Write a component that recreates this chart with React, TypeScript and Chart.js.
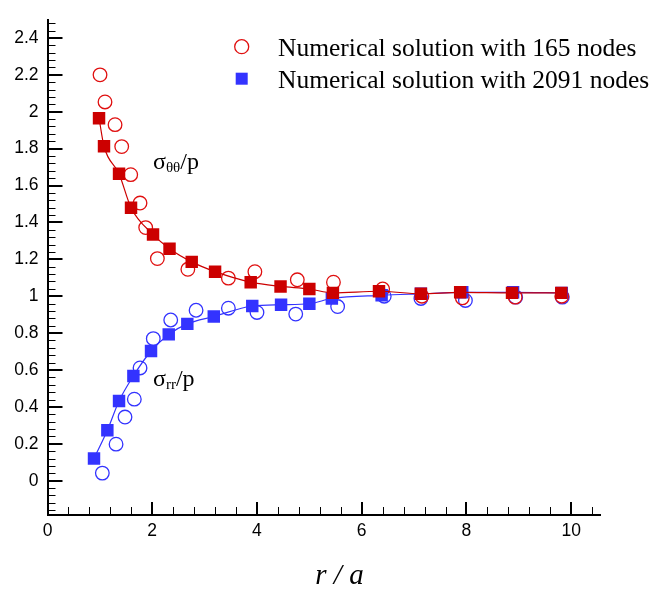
import React, { useEffect, useRef } from "react";
import { Chart, registerables } from "chart.js";
Chart.register(...registerables);

// sigma_theta_theta / p, 2091 nodes (filled squares + line)
const tt2091X = [0.984, 1.079, 1.366, 1.595, 2.015, 2.33, 2.754, 3.2, 3.88, 4.45, 5.0, 5.45, 6.33, 7.13, 7.88, 8.87, 9.81];
const tt2091Y = [1.965, 1.813, 1.664, 1.48, 1.335, 1.257, 1.186, 1.133, 1.076, 1.053, 1.039, 1.018, 1.027, 1.013, 1.021, 1.018, 1.018];
// sigma_rr / p, 2091 nodes
const rr2091X = [0.888, 1.143, 1.366, 1.64, 1.977, 2.315, 2.67, 3.175, 3.91, 4.46, 5.0, 5.43, 6.38, 7.13, 7.92, 8.89, 9.82];
const rr2091Y = [0.12, 0.273, 0.432, 0.568, 0.703, 0.793, 0.85, 0.89, 0.947, 0.954, 0.959, 0.988, 1.005, 1.013, 1.021, 1.021, 1.018];
// sigma_theta_theta / p, 165 nodes (open circles)
const tt165X = [1.003, 1.098, 1.29, 1.417, 1.589, 1.767, 1.875, 2.098, 2.68, 3.454, 3.96, 4.77, 5.46, 6.4, 7.15, 7.92, 8.93, 9.82];
const tt165Y = [2.2, 2.053, 1.93, 1.811, 1.659, 1.505, 1.372, 1.204, 1.146, 1.098, 1.133, 1.089, 1.076, 1.039, 1.0, 0.991, 0.995, 1.0];
// sigma_rr / p, 165 nodes
const rr165X = [1.047, 1.309, 1.48, 1.658, 1.767, 2.02, 2.353, 2.837, 3.454, 4.0, 4.74, 5.54, 6.43, 7.13, 7.98, 8.94, 9.83];
const rr165Y = [0.041, 0.198, 0.345, 0.442, 0.611, 0.77, 0.871, 0.924, 0.935, 0.912, 0.903, 0.944, 1.0, 0.988, 0.977, 0.995, 0.995];

const xTicks = [0, 2, 4, 6, 8, 10];
const yTicks = [0, 0.2, 0.4, 0.6, 0.8, 1, 1.2, 1.4, 1.6, 1.8, 2, 2.2, 2.4];
const legendLabels = ["Numerical solution with 165 nodes", "Numerical solution with 2091 nodes"];

const RED = "#cc0000";
const RED_C = "#e01010";
const BLUE = "#3333ff";

const pts = (xs: number[], ys: number[]) => xs.map((x, i) => ({ x, y: ys[i] }));

const decor = {
  id: "decor",
  afterDraw(chart: any) {
    const ctx = chart.ctx as CanvasRenderingContext2D;
    const xs = chart.scales.x;
    const ys = chart.scales.y;
    const { left, bottom } = chart.chartArea;
    ctx.save();
    ctx.strokeStyle = "#000";
    // y ticks (inward)
    for (let i = -5; i <= 63; i++) {
      const v = i * 0.04;
      if (v < ys.min - 1e-9 || v > ys.max + 1e-9) continue;
      const major = i % 5 === 0;
      const py = ys.getPixelForValue(v);
      ctx.lineWidth = major ? 2 : 1;
      const yy = major ? Math.round(py) : Math.round(py) + 0.5;
      ctx.beginPath();
      ctx.moveTo(left, yy);
      ctx.lineTo(left + (major ? 15 : 8), yy);
      ctx.stroke();
    }
    // x ticks (inward)
    for (let i = 0; i <= 30; i++) {
      const v = i * 0.4;
      if (v > xs.max + 1e-9) continue;
      const major = i % 5 === 0;
      const px = xs.getPixelForValue(v);
      ctx.lineWidth = major ? 2 : 1;
      const xx = major ? Math.round(px) : Math.round(px) + 0.5;
      ctx.beginPath();
      ctx.moveTo(xx, bottom);
      ctx.lineTo(xx, bottom - (major ? 13 : 8));
      ctx.stroke();
    }
    // legend
    ctx.lineWidth = 1.3;
    ctx.strokeStyle = RED_C;
    ctx.beginPath();
    ctx.arc(241.7, 46.7, 7, 0, Math.PI * 2);
    ctx.stroke();
    ctx.fillStyle = BLUE;
    ctx.fillRect(235.7, 72.7, 12, 12);
    ctx.fillStyle = "#000";
    ctx.font = '25.5px "Liberation Serif"';
    ctx.textAlign = "left";
    ctx.textBaseline = "alphabetic";
    ctx.fillText(legendLabels[0], 278, 56);
    ctx.fillText(legendLabels[1], 278, 88);
    // annotations
    const drawSig = (x: number, y: number, sub: string) => {
      ctx.font = '24px "Liberation Serif"';
      ctx.fillText("σ", x, y);
      let w = ctx.measureText("σ").width;
      ctx.font = '15px "Liberation Serif"';
      ctx.fillText(sub, x + w, y + 3);
      w += ctx.measureText(sub).width;
      ctx.font = '24px "Liberation Serif"';
      ctx.fillText("/p", x + w, y);
    };
    drawSig(153, 169, "θθ");
    drawSig(153, 386, "rr");
    // x title
    ctx.font = 'italic 29px "Liberation Serif"';
    ctx.textAlign = "center";
    ctx.fillText("r / a", 339.5, 584);
    ctx.restore();
  },
};

export default function App() {
  const ref = useRef<HTMLCanvasElement>(null);
  useEffect(() => {
    const chart = new Chart(ref.current as HTMLCanvasElement, {
      type: "scatter",
      data: {
        datasets: [
          {
            label: "tt2091",
            data: pts(tt2091X, tt2091Y),
            showLine: true,
            borderColor: RED,
            borderWidth: 1.2,
            cubicInterpolationMode: "monotone",
            pointStyle: "rect",
            pointRadius: 8.8,
            pointBackgroundColor: RED,
            pointBorderColor: RED,
            pointBorderWidth: 0,
          },
          {
            label: "rr2091",
            data: pts(rr2091X, rr2091Y),
            showLine: true,
            borderColor: BLUE,
            borderWidth: 1.2,
            cubicInterpolationMode: "monotone",
            pointStyle: "rect",
            pointRadius: 8.8,
            pointBackgroundColor: BLUE,
            pointBorderColor: BLUE,
            pointBorderWidth: 0,
          },
          {
            label: "tt165",
            data: pts(tt165X, tt165Y),
            showLine: false,
            pointStyle: "circle",
            pointRadius: 6.8,
            pointBackgroundColor: "rgba(0,0,0,0)",
            pointBorderColor: RED_C,
            pointBorderWidth: 1.3,
          },
          {
            label: "rr165",
            data: pts(rr165X, rr165Y),
            showLine: false,
            pointStyle: "circle",
            pointRadius: 6.8,
            pointBackgroundColor: "rgba(0,0,0,0)",
            pointBorderColor: BLUE,
            pointBorderWidth: 1.3,
          },
        ],
      },
      options: {
        animation: false,
        responsive: false,
        devicePixelRatio: 1,
        layout: { padding: { top: 9.25, right: 53, left: 0, bottom: 0 } },
        plugins: { legend: { display: false }, tooltip: { enabled: false } },
        scales: {
          x: {
            type: "linear",
            min: 0,
            max: 10.55,
            grid: { display: false, drawTicks: false },
            border: { display: true, color: "#000", width: 2 },
            afterFit: (s: any) => {
              s.height = 79;
            },
            afterBuildTicks: (s: any) => {
              s.ticks = xTicks.map((v) => ({ value: v }));
            },
            ticks: {
              padding: 6,
              color: "#000",
              font: { family: "Liberation Sans", size: 17.5 },
              maxRotation: 0,
              callback: (v: any) => String(v),
            },
          },
          y: {
            type: "linear",
            min: -0.186,
            max: 2.5,
            grid: { display: false, drawTicks: false },
            border: { display: true, color: "#000", width: 2 },
            afterFit: (s: any) => {
              s.width = 47.5;
            },
            afterBuildTicks: (s: any) => {
              s.ticks = yTicks.map((v) => ({ value: v }));
            },
            ticks: {
              padding: 9,
              color: "#000",
              font: { family: "Liberation Sans", size: 17.5 },
              callback: (v: any) => String(Number(Number(v).toFixed(1))),
            },
          },
        },
      },
      plugins: [decor],
    });
    return () => chart.destroy();
  }, []);
  return (
    <div style={{ position: "absolute", left: 0, top: 0, width: 653, height: 594, background: "#fff" }}>
      <canvas ref={ref} width={653} height={594} style={{ width: 653, height: 594, display: "block" }} />
    </div>
  );
}
